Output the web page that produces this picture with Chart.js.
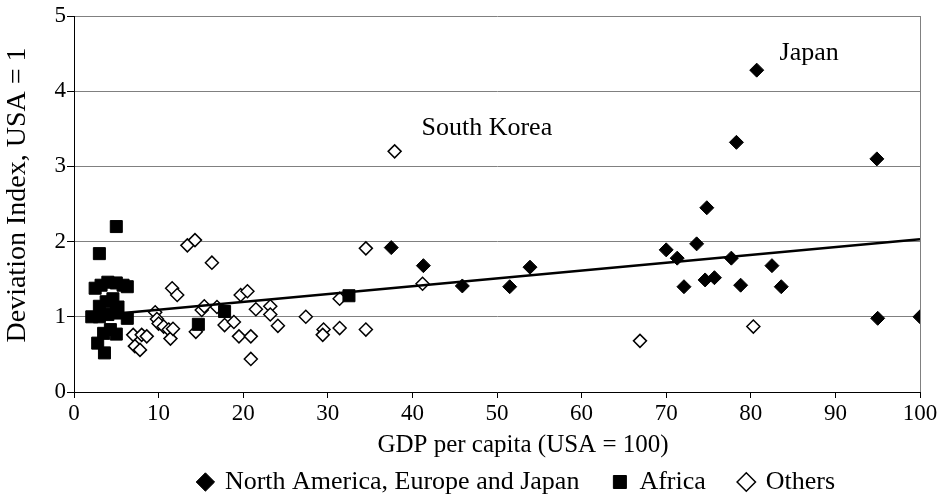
<!DOCTYPE html>
<html><head><meta charset="utf-8">
<script src="https://cdn.jsdelivr.net/npm/chart.js@4/dist/chart.umd.min.js"></script>
<style>html,body{margin:0;padding:0;background:#fff}#wrap{width:942px;height:496px;position:relative}</style>
</head><body><div id="wrap"><canvas id="c"></canvas></div>
<script>
// ---- data ----
const naX = [37.5,41.3,45.9,51.5,53.9,70.0,71.3,72.1,73.6,74.8,74.6,75.7,77.7,78.3,78.8,80.7,82.5,83.6,94.9,95.0,100];
const naY = [1.92,1.68,1.41,1.40,1.66,1.89,1.78,1.40,1.97,2.45,1.49,1.52,1.78,3.32,1.42,4.28,1.68,1.40,3.10,0.98,1.00];

const afX = [5.0,3.0,2.5,3.2,4.0,5.0,5.8,6.3,3.0,3.8,4.6,5.2,2.1,3.0,4.0,5.0,6.3,4.3,5.0,3.5,2.8,3.6,14.7,17.8,32.5];
const afY = [2.20,1.84,1.38,1.42,1.46,1.45,1.42,1.40,1.14,1.20,1.24,1.13,1.00,1.00,1.03,1.05,0.98,0.83,0.77,0.78,0.65,0.52,0.90,1.07,1.28];

const otX = [7.0,7.2,7.8,8.0,8.6,9.6,9.8,10.0,10.6,11.2,11.4,11.7,11.6,12.2,13.4,14.3,14.4,15.1,15.4,16.3,16.9,17.8,18.9,19.5,19.7,20.5,20.9,20.9,21.5,23.2,23.2,24.1,27.4,29.5,29.4,31.4,31.4,34.5,34.5,37.9,41.2,66.9,80.3];
const otY = [0.76,0.61,0.56,0.76,0.74,1.06,0.97,0.91,0.87,0.83,0.71,0.84,1.38,1.29,1.95,2.02,0.80,1.09,1.14,1.72,1.13,0.89,0.93,0.74,1.29,1.34,0.74,0.44,1.10,1.14,1.03,0.88,1.00,0.83,0.76,1.24,0.85,1.91,0.83,3.20,1.44,0.68,0.87];

const trendX = [2, 100];
const trendY = [1.01, 2.03];

const seriesNames = ['North America, Europe and Japan', 'Africa', 'Others'];
const xTicks = [0,10,20,30,40,50,60,70,80,90,100];
const yTicks = [0,1,2,3,4,5];
const xTitle = 'GDP per capita (USA = 100)';
const yTitle = 'Deviation Index, USA = 1';

const noteText = ['Japan', 'South Korea'];
const noteX = [86.9, 48.8];
const noteY = [4.51, 3.51];

const pts = (xs, ys) => xs.map((x, i) => ({x: x, y: ys[i]}));
const FONT = '"Liberation Serif", "DejaVu Serif", serif';
Chart.defaults.font.family = FONT;
Chart.defaults.color = '#000';

const frame = {
  id: 'frame',
  beforeDraw(chart) {
    // shift the legend row to where it sits in the reference
    if (chart.legend) chart.legend.left = chart.chartArea.left + 40;
  },
  afterDraw(chart) {
    const {ctx, chartArea: a, scales} = chart;
    ctx.save();
    ctx.strokeStyle = '#808080';
    ctx.lineWidth = 1;
    ctx.beginPath();
    ctx.moveTo(Math.round(a.right) + 0.5, a.top);
    ctx.lineTo(Math.round(a.right) + 0.5, a.bottom);
    ctx.stroke();
    ctx.fillStyle = '#000';
    ctx.textAlign = 'center';
    ctx.textBaseline = 'middle';
    ctx.font = '26px ' + FONT;
    noteText.forEach((t, i) => {
      ctx.fillText(t, scales.x.getPixelForValue(noteX[i]), scales.y.getPixelForValue(noteY[i]));
    });
    // axis titles
    ctx.font = '25px ' + FONT;
    ctx.fillText(xTitle, (a.left + a.right) / 2 + 26, a.bottom + 53);
    ctx.font = '28px ' + FONT;
    ctx.translate(18, (a.top + a.bottom) / 2 - 9);
    ctx.rotate(-Math.PI / 2);
    ctx.fillText(yTitle, 0, 0);
    ctx.restore();
  }
};

new Chart(document.getElementById('c'), {
  type: 'scatter',
  data: {
    datasets: [
      { label: seriesNames[0], data: pts(naX, naY), pointStyle: 'rectRot', pointRadius: 7, pointHoverRadius: 7,
        backgroundColor: '#000', borderColor: '#000', borderWidth: 1, order: 0 },
      { label: seriesNames[1], data: pts(afX, afY), pointStyle: 'rect', pointRadius: 8.5, pointHoverRadius: 8.5,
        backgroundColor: '#000', borderColor: '#000', borderWidth: 1, order: 1 },
      { label: seriesNames[2], data: pts(otX, otY), pointStyle: 'rectRot', pointRadius: 6.5, pointHoverRadius: 6.5,
        backgroundColor: '#fff', borderColor: '#000', borderWidth: 1.5, order: 3 },
      { label: 'trend', data: pts(trendX, trendY), showLine: true, pointRadius: 0, borderColor: '#000',
        borderWidth: 2.5, backgroundColor: '#000', order: 2 }
    ]
  },
  options: {
    responsive: true,
    maintainAspectRatio: false,
    animation: false,
    layout: { padding: { top: 16, right: 22, left: 0, bottom: -9 } },
    scales: {
      x: {
        type: 'linear', min: 0, max: 100,
        afterBuildTicks: s => { s.ticks = xTicks.map(v => ({value: v})); },
        afterFit: s => { s.height = 43; },
        grid: { drawOnChartArea: false, color: '#000', tickLength: 6 },
        border: { color: '#000', width: 1 },
        ticks: { font: { size: 23 }, color: '#000', padding: 2, maxRotation: 0 },
        title: { display: false }
      },
      y: {
        type: 'linear', min: 0, max: 5,
        afterBuildTicks: s => { s.ticks = yTicks.map(v => ({value: v})); },
        afterFit: s => { s.width = 74; },
        grid: { color: '#808080', lineWidth: 1, tickLength: 7, tickColor: '#000' },
        border: { color: '#000', width: 1 },
        ticks: { font: { size: 23 }, color: '#000', padding: 1 },
        title: { display: false }
      }
    },
    plugins: {
      legend: {
        position: 'bottom',
        labels: {
          usePointStyle: true, boxWidth: 13, boxHeight: 13, padding: 34,
          font: { size: 26 }, color: '#000',
          filter: item => item.text !== 'trend'
        }
      },
      tooltip: { enabled: false }
    }
  },
  plugins: [frame]
});
</script></body></html>
